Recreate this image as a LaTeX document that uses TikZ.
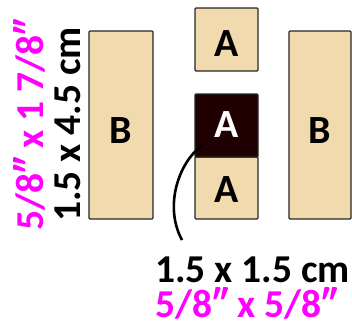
\documentclass[tikz,border=0pt]{standalone}
\usepackage{fontspec}
\setmainfont{Carlito}
\definecolor{tan}{HTML}{F2DAAF}
\definecolor{darkbox}{HTML}{200000}
\definecolor{mag}{HTML}{FF00FF}
\tikzset{
  piece/.style={draw=black!85, line width=1.3pt, rounded corners=1pt, fill=tan},
  lbl/.style={font=\fontsize{39.5}{42}\selectfont\bfseries, inner sep=0pt},
  letter/.style={font=\fontsize{40}{42}\selectfont\bfseries, inner sep=0pt},
}
\begin{document}
\begin{tikzpicture}[x=1pt,y=-1pt]
\useasboundingbox (0,0) rectangle (352,327);
% boxes
\draw[piece] (89,31) rectangle (153,219);
\draw[piece] (289,31) rectangle (351,219);
\draw[piece] (195,8) rectangle (258,71);
\draw[piece] (195,157) rectangle (258,219);
\draw[piece, fill=darkbox] (195,94) rectangle (258,157);
\node[letter] (b1) at (121,131) {B};
\node[letter] (b2) at (320,131) {B};
\node[letter] (a1) at (226.5,44) {A};
\node[letter, text=white] (a2) at (226.5,125) {A};
\node[letter] (a3) at (226.5,190) {A};
% rotated labels
\node[lbl, anchor=base west, rotate=90] (t1) at (80,222) {1.5 x 4.5 cm};
\node[lbl, anchor=base west, rotate=90, text=mag] (t2) at (43,231) {5/8″ x 1 7/8″};
% bottom labels
\node[lbl, anchor=base west] (t3) at (155,282) {1.5 x 1.5 cm};
\node[lbl, anchor=base west, text=mag] (t4) at (155,317) {5/8″ x 5/8″};
% pointer
\coordinate (p1) at (203,145);
\coordinate (p2) at (182,240);
\draw[line width=2.6pt] (p1) .. controls (180,160) and (163,205) .. (p2);
\end{tikzpicture}
\end{document}
